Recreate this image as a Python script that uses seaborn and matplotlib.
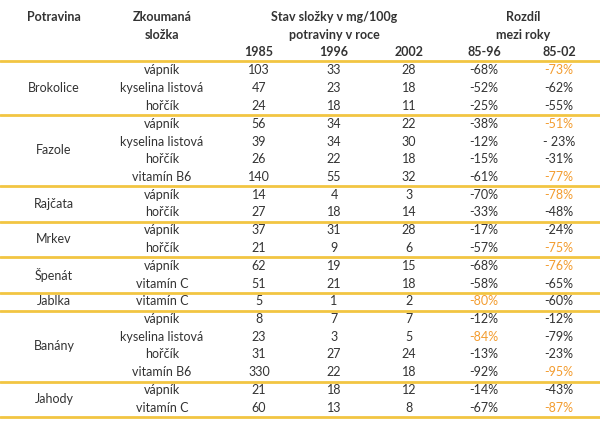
import matplotlib.pyplot as plt
import seaborn as sns
import pandas as pd

# data
foods = ["Brokolice", "Fazole", "Rajčata", "Mrkev", "Špenát", "Jablka", "Banány", "Jahody"]
components = [
    ["vápník", "kyselina listová", "hořčík"],
    ["vápník", "kyselina listová", "hořčík", "vitamín B6"],
    ["vápník", "hořčík"],
    ["vápník", "hořčík"],
    ["vápník", "vitamín C"],
    ["vitamín C"],
    ["vápník", "kyselina listová", "hořčík", "vitamín B6"],
    ["vápník", "vitamín C"],
]
v1985 = [103, 47, 24, 56, 39, 26, 140, 14, 27, 37, 21, 62, 51, 5, 8, 23, 31, 330, 21, 60]
v1996 = [33, 23, 18, 34, 34, 22, 55, 4, 18, 31, 9, 19, 21, 1, 7, 3, 27, 22, 18, 13]
v2002 = [28, 18, 11, 22, 30, 18, 32, 3, 14, 28, 6, 15, 18, 2, 7, 5, 24, 18, 12, 8]
d8596 = ["-68%", "-52%", "-25%", "-38%", "-12%", "-15%", "-61%", "-70%", "-33%", "-17%",
         "-57%", "-68%", "-58%", "-80%", "-12%", "-84%", "-13%", "-92%", "-14%", "-67%"]
d8502 = ["-73%", "-62%", "-55%", "-51%", "- 23%", "-31%", "-77%", "-78%", "-48%", "-24%",
         "-75%", "-76%", "-65%", "-60%", "-12%", "-79%", "-23%", "-95%", "-43%", "-87%"]
hl8596 = [False] * 13 + [True, False, True] + [False] * 4
hl8502 = [True, False, False, True, False, False, True, True, False, False,
          True, True, False, False, False, False, False, True, False, True]

rows = []
for f, comps in zip(foods, components):
    for c in comps:
        rows.append((f, c))
df = pd.DataFrame(rows, columns=["potravina", "slozka"])
df["1985"] = v1985
df["1996"] = v1996
df["2002"] = v2002
df["85-96"] = d8596
df["85-02"] = d8502

sns.set_theme(style="white")
plt.rcParams["font.family"] = ["Lato", "DejaVu Sans"]

TXT = "#333333"
GOLD = "#F2C542"
ORANGE = "#F39C2F"
FS = 9

fig, ax = plt.subplots(figsize=(6, 4.23), dpi=100)
ax.set_position([0, 0, 1, 1])
ax.set_xlim(0, 600)
ax.set_ylim(423, 0)
ax.axis("off")

xs = {"potravina": 54, "slozka": 162, "1985": 259, "1996": 334,
      "2002": 409, "85-96": 484, "85-02": 559}

# header
hb = dict(ha="center", va="center", fontsize=FS, fontweight="bold", color=TXT)
ax.text(xs["potravina"], 17, "Potravina", **hb)
ax.text(xs["slozka"], 17, "Zkoumaná", **hb)
ax.text(xs["slozka"], 35, "složka", **hb)
ax.text(334, 17, "Stav složky v mg/100g", **hb)
ax.text(334, 35, "potraviny v roce", **hb)
ax.text(523, 17, "Rozdíl", **hb)
ax.text(523, 35, "mezi roky", **hb)
for col in ["1985", "1996", "2002", "85-96", "85-02"]:
    ax.text(xs[col], 52, col, **hb)
ax.axhline(61, color=GOLD, lw=2)

y0, dy = 70.5, 17.75
kw = dict(ha="center", va="center", fontsize=FS, color=TXT)
start = 0
for f, comps in zip(foods, components):
    n = len(comps)
    ys = [y0 + (start + k) * dy for k in range(n)]
    ax.text(xs["potravina"], sum(ys) / n, f, **kw)
    for k, i in enumerate(range(start, start + n)):
        r = df.iloc[i]
        ax.text(xs["slozka"], ys[k], r["slozka"], **kw)
        for col in ["1985", "1996", "2002"]:
            ax.text(xs[col], ys[k], str(r[col]), **kw)
        ax.text(xs["85-96"], ys[k], r["85-96"],
                **{**kw, "color": ORANGE if hl8596[i] else TXT})
        ax.text(xs["85-02"], ys[k], r["85-02"],
                **{**kw, "color": ORANGE if hl8502[i] else TXT})
    start += n
    ax.axhline(ys[-1] + dy / 2 + 0.5, color=GOLD, lw=2)

fig.savefig("out.png", dpi=100)
